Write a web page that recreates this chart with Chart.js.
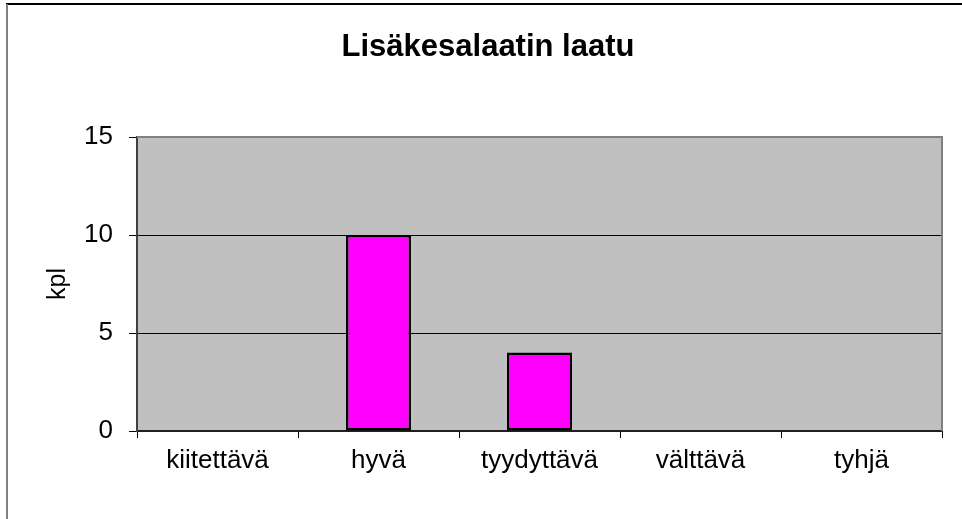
<!DOCTYPE html>
<html>
<head>
<meta charset="utf-8">
<script src="https://cdn.jsdelivr.net/npm/chart.js@4/dist/chart.umd.min.js"></script>
<style>
  html, body { margin: 0; padding: 0; background: #fff; }
  #wrap { width: 962px; height: 519px; }
</style>
</head>
<body>
<div id="wrap"><canvas id="chart" width="962" height="519"></canvas></div>
<script>
// Data
const categories = ['kiitettävä', 'hyvä', 'tyydyttävä', 'välttävä', 'tyhjä'];
const counts = [0, 10, 4, 0, 0];
const yTicks = [0, 5, 10, 15];

const FONT = "'Liberation Sans', Arial, sans-serif";

// white page, outer frame and the gray plot area
const frame = {
  id: 'frame',
  beforeDraw(chart) {
    const ctx = chart.ctx;
    const a = chart.chartArea;
    ctx.save();
    ctx.fillStyle = '#fff';
    ctx.fillRect(0, 0, chart.width, chart.height);
    ctx.strokeStyle = '#000';
    ctx.lineWidth = 2;
    ctx.beginPath();
    ctx.moveTo(6, 4);
    ctx.lineTo(chart.width, 4);
    ctx.stroke();
    ctx.strokeStyle = '#808080';
    ctx.beginPath();
    ctx.moveTo(7, 4);
    ctx.lineTo(7, chart.height);
    ctx.stroke();
    ctx.fillStyle = '#c0c0c0';
    ctx.fillRect(a.left, a.top, a.right - a.left, a.bottom - a.top);
    ctx.restore();
  },
  beforeDatasetsDraw(chart) {
    const ctx = chart.ctx;
    const a = chart.chartArea;
    ctx.save();
    ctx.strokeStyle = '#808080';
    ctx.lineWidth = 2;
    ctx.beginPath();
    ctx.moveTo(a.left, a.top);
    ctx.lineTo(a.right, a.top);
    ctx.lineTo(a.right, a.bottom);
    ctx.stroke();
    ctx.restore();
  }
};

new Chart(document.getElementById('chart'), {
  type: 'bar',
  data: {
    labels: categories,
    datasets: [{
      label: 'kpl',
      data: counts,
      backgroundColor: '#ff00ff',
      borderColor: '#000',
      borderWidth: 2.5,
      borderSkipped: false,
      categoryPercentage: 1,
      barPercentage: 0.404
    }]
  },
  options: {
    responsive: false,
    animation: false,
    layout: { padding: { left: 34, right: 20, top: 0, bottom: 0 } },
    plugins: {
      legend: { display: false },
      tooltip: { enabled: false },
      title: {
        display: true,
        text: 'Lisäkesalaatin laatu',
        color: '#000',
        font: { family: FONT, size: 31, weight: 'bold', lineHeight: 1.2 },
        padding: { top: 29, bottom: 70.8 }
      }
    },
    scales: {
      x: {
        afterFit(s) { s.height = 88; },
        grid: { display: true, drawOnChartArea: false, offset: true, tickLength: 7, color: '#000' },
        border: { color: '#202020', width: 2 },
        ticks: { color: '#000', padding: 7, font: { family: FONT, size: 26 }, maxRotation: 0 }
      },
      y: {
        min: 0,
        max: 15,
        afterFit(s) { s.width = 103; },
        afterBuildTicks(s) { s.ticks = yTicks.map(v => ({ value: v })); },
        grid: { color: '#000', tickLength: 8, lineWidth: 1 },
        border: { color: '#404040', width: 2 },
        ticks: { color: '#000', padding: 16, font: { family: FONT, size: 26 } },
        title: {
          display: true,
          text: 'kpl',
          color: '#000',
          font: { family: FONT, size: 25, lineHeight: 1.2 },
          padding: { top: 9, bottom: 0 }
        }
      }
    }
  },
  plugins: [frame]
});
</script>
</body>
</html>
